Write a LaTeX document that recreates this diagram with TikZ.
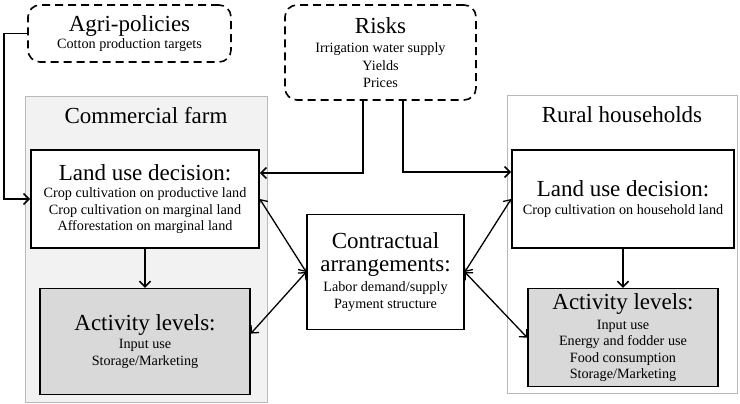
\documentclass[tikz,border=0pt]{standalone}
\usepackage{fontspec}
\setmainfont{Liberation Serif}
\usepackage{tikz}
\usetikzlibrary{positioning,arrows.meta}

\definecolor{farmgray}{RGB}{242,242,242}
\definecolor{actgray}{RGB}{217,217,217}
\definecolor{framegray}{RGB}{185,185,185}

\tikzset{
    txt/.style={font=\fontsize{14.2}{16.5}\selectfont, align=center, inner sep=1pt},
    head/.style={font=\fontsize{23}{27}\selectfont, inner sep=0pt},
    frame/.style={draw=framegray, line width=0.9pt},
    block/.style={txt, draw, line width=1.6pt, fill=white},
    driver/.style={txt, draw, line width=1.6pt, dashed, dash pattern=on 8pt off 5pt, rounded corners=12pt},
    arr/.style={line width=1.6pt, -{Straight Barb[length=5.5pt,width=11pt]}},
    dblarr/.style={line width=1.3pt, {Straight Barb[length=5.5pt,width=11pt]}-{Straight Barb[length=5.5pt,width=11pt]}},
}

\begin{document}
\begin{tikzpicture}[x=1pt,y=-1pt]
    \useasboundingbox (0,0) rectangle (740,404);

    % external drivers
    \node [driver, minimum width=203pt, minimum height=57pt] (agri) at (129.5,33.5)
        {{\fontsize{23}{27}\selectfont Agri-policies}\\ Cotton production targets};
    \node [driver, minimum width=191pt, minimum height=95pt] (risks) at (380.5,52.5)
        {{\fontsize{23}{27}\selectfont Risks}\\[3pt] Irrigation water supply\\[1pt] Yields\\[1pt] Prices};

    % commercial farm
    \node [frame, fill=farmgray, minimum width=242pt, minimum height=306pt] (farm) at (146,249) {};
    \node [head, below=12pt of farm.north] (farmhead) {Commercial farm};
    \node [block, minimum width=228pt, minimum height=98pt] (landL) at (145,199)
        {{\fontsize{23}{24}\selectfont Land use decision:}\\[1pt] Crop cultivation on productive land\\ Crop cultivation on marginal land\\ Afforestation on marginal land};
    \node [block, fill=actgray, minimum width=210pt, minimum height=106pt, below=39pt of landL] (actL)
        {{\fontsize{23}{24}\selectfont Activity levels:}\\[1pt] Input use\\[1pt] Storage/Marketing};

    % rural households
    \node [frame, fill=white, minimum width=230pt, minimum height=298pt] (rural) at (622,244) {};
    \node [head, below=12pt of rural.north] (ruralhead) {Rural households};
    \node [block, minimum width=222pt, minimum height=98pt] (landR) at (623,199)
        {{\fontsize{23}{24}\selectfont Land use decision:}\\[2pt] Crop cultivation on household land};
    \node [block, fill=actgray, minimum width=190pt, minimum height=98pt, below=39pt of landR] (actR)
        {{\fontsize{23}{24}\selectfont Activity levels:}\\[3pt] Input use\\ Energy and fodder use\\ Food consumption\\ Storage/Marketing};

    % contract between both
    \node [block, minimum width=157pt, minimum height=115pt] (contr) at (385.5,272)
        {{\fontsize{23}{28}\selectfont Contractual}\\[6pt] {\fontsize{23}{28}\selectfont arrangements:}\\[4pt] Labor demand/supply\\ Payment structure};

    \draw [arr] (agri.west) -- ++(-23,0) |- (landL.west);
    \draw [arr] ([xshift=-17.5pt]risks.south) |- ([yshift=26pt]landL.east);
    \draw [arr] ([xshift=22.5pt]risks.south) |- ([yshift=27pt]landR.west);
    \draw [arr] (landL) -- (actL);
    \draw [arr] (landR.south -| actR.north) -- (actR.north);

    \draw [dblarr] (landL.east) -- (contr.west);
    \draw [dblarr] ([yshift=8pt]actL.east) -- (contr.west);
    \draw [dblarr] (contr.east) -- (landR.west);
    \draw [dblarr] (contr.east) -- (actR.west);
\end{tikzpicture}
\end{document}
